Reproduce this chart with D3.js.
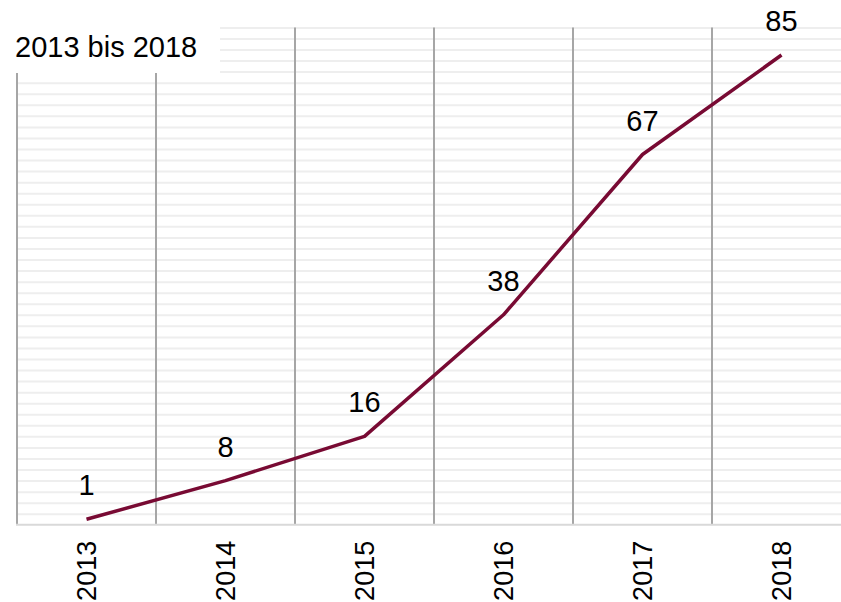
<!DOCTYPE html>
<html>
<head>
<meta charset="utf-8">
<script src="https://cdn.jsdelivr.net/npm/d3@7"></script>
<style>
  html, body { margin: 0; padding: 0; background: #fff; overflow: hidden; }
  svg { display: block; font-family: "Liberation Sans", Arial, sans-serif; }
</style>
</head>
<body>
<svg id="chart" width="841" height="602"></svg>
<script>
const years = ["2013", "2014", "2015", "2016", "2017", "2018"];
const values = [1, 8, 16, 38, 67, 85];
const yTicks = d3.range(0, 91, 2);
const title = "2013 bis 2018";

const svg = d3.select("#chart");
const mLeft = 17, mRight = 851, mTop = 27.4, mBottom = 524.8;

const x = d3.scaleBand().domain(years).range([mLeft, mRight]).padding(0);
const y = d3.scaleLinear().domain([0, 90]).range([mBottom, mTop]);

// horizontal minor gridlines
svg.append("g")
  .attr("transform", `translate(${mLeft},0)`)
  .call(d3.axisLeft(y).tickValues(yTicks.filter(d => d > 0)).tickSize(-(mRight - mLeft)).tickFormat(""))
  .call(g => g.select(".domain").remove())
  .call(g => g.selectAll(".tick line").attr("stroke", "#eeeeee").attr("stroke-width", 2));

// vertical category separators
svg.append("g").selectAll("line")
  .data(years)
  .join("line")
  .attr("x1", d => x(d)).attr("x2", d => x(d))
  .attr("y1", mTop).attr("y2", mBottom)
  .attr("stroke", "#a6a6a6").attr("stroke-width", 2);

// bottom axis line
svg.append("line")
  .attr("x1", mLeft - 1).attr("x2", mRight)
  .attr("y1", mBottom).attr("y2", mBottom)
  .attr("stroke", "#d9d9d9").attr("stroke-width", 2);

// title box
svg.append("rect").attr("x", 0).attr("y", 0).attr("width", 220).attr("height", 73).attr("fill", "#fff");
svg.append("text")
  .attr("x", 15).attr("y", 57)
  .attr("font-size", 29).attr("fill", "#000")
  .text(title);

// line
const cx = d => x(d) + x.bandwidth() / 2;
const data = years.map((yr, i) => ({ yr, v: values[i] }));
svg.append("path")
  .datum(data)
  .attr("fill", "none")
  .attr("stroke", "#780a33")
  .attr("stroke-width", 3.5)
  .attr("stroke-linejoin", "round")
  .attr("d", d3.line().x(d => cx(d.yr)).y(d => y(d.v)));

// value labels
svg.append("g").selectAll("text")
  .data(data)
  .join("text")
  .attr("x", d => cx(d.yr))
  .attr("y", d => y(d.v) - 24)
  .attr("text-anchor", "middle")
  .attr("font-size", 29).attr("fill", "#000")
  .text(d => d.v);

// x tick labels (rotated)
const xAxis = svg.append("g")
  .attr("transform", `translate(0,${mBottom})`)
  .call(d3.axisBottom(x).tickSize(0).tickPadding(0));
xAxis.select(".domain").remove();
xAxis.selectAll(".tick text")
  .attr("font-size", 27)
  .attr("font-family", "Liberation Sans, Arial, sans-serif")
  .attr("fill", "#000")
  .attr("text-anchor", "end")
  .attr("transform", "rotate(-90)")
  .attr("x", -16).attr("y", 0).attr("dy", "0.35em");
</script>
</body>
</html>
